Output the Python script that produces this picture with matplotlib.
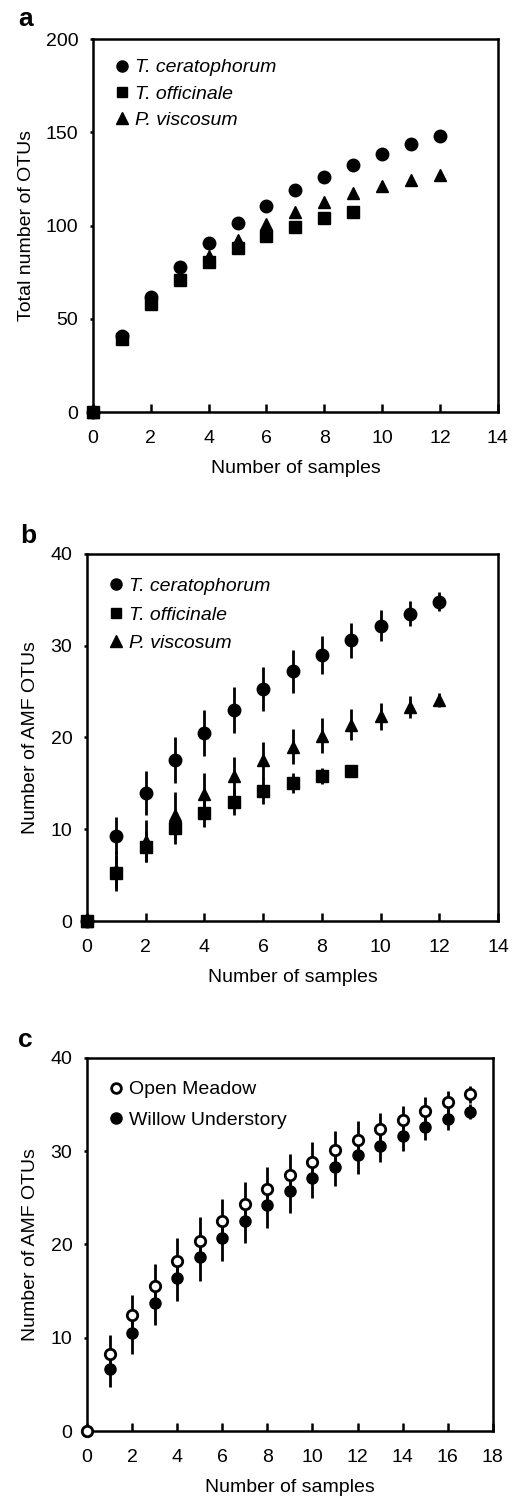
import numpy as np
import matplotlib
matplotlib.use('Agg')
import matplotlib.pyplot as plt
from matplotlib.lines import Line2D

plt.rcParams['font.family'] = ['Liberation Sans', 'DejaVu Sans']
plt.rcParams['font.size'] = 14

# Panel a: total number of OTUs
a_x = list(range(0, 13))
a_cer = [0, 40.7, 61.8, 77.6, 90.4, 101.2, 110.5, 119.0, 125.8, 132.4, 138.3, 143.5, 148.0]
a_off = [0, 39.0, 58.0, 70.8, 80.6, 87.8, 94.5, 99.4, 103.9, 107.4]
a_vis = [0, 39.5, 59.5, 72.0, 83.5, 92.5, 100.8, 107.0, 112.5, 117.2, 121.0, 124.2, 127.0]

# Panel b: AMF OTUs by host plant (mean, sd)
b_cer = [0, 9.3, 14.0, 17.5, 20.5, 23.0, 25.3, 27.2, 29.0, 30.6, 32.2, 33.5, 34.8]
b_cer_e = [0, 2.0, 2.4, 2.5, 2.5, 2.5, 2.4, 2.3, 2.1, 1.9, 1.7, 1.4, 1.0]
b_off = [0, 5.2, 8.1, 10.1, 11.8, 13.0, 14.2, 15.0, 15.8, 16.4]
b_off_e = [0, 1.9, 1.7, 1.7, 1.6, 1.4, 1.4, 1.1, 0.9, 0.3]
b_vis = [0, 5.6, 8.7, 11.5, 13.8, 15.8, 17.5, 19.0, 20.2, 21.4, 22.3, 23.3, 24.1]
b_vis_e = [0, 2.0, 2.3, 2.6, 2.3, 2.1, 2.0, 1.9, 1.9, 1.7, 1.5, 1.2, 0.8]

# Panel c: AMF OTUs by habitat
c_x = list(range(0, 18))
c_open = [0, 8.3, 12.4, 15.5, 18.2, 20.4, 22.5, 24.3, 25.95, 27.45, 28.8, 30.1, 31.2, 32.4, 33.4, 34.35, 35.3, 36.1]
c_open_e = [0, 2.0, 2.2, 2.4, 2.5, 2.5, 2.4, 2.4, 2.4, 2.3, 2.2, 2.1, 2.0, 1.75, 1.5, 1.5, 1.2, 0.9]
c_will = [0, 6.6, 10.5, 13.7, 16.4, 18.7, 20.7, 22.55, 24.2, 25.7, 27.1, 28.35, 29.6, 30.6, 31.6, 32.6, 33.5, 34.25]
c_will_e = [0, 1.9, 2.2, 2.3, 2.5, 2.6, 2.5, 2.4, 2.4, 2.3, 2.15, 2.05, 2.0, 1.8, 1.6, 1.45, 1.2, 0.8]

fig = plt.figure(figsize=(5.15, 15), dpi=100)
ax_a = fig.add_axes([0.1806, 0.7253, 0.786, 0.2487])
ax_b = fig.add_axes([0.169, 0.386, 0.798, 0.2447])
ax_c = fig.add_axes([0.169, 0.046, 0.788, 0.2487])


def style_axes(ax, xmax, ymax, ystep, ylabel):
    ax.set_xlim(0, xmax)
    ax.set_ylim(0, ymax)
    ax.set_xticks(np.arange(0, xmax + 1, 2))
    ax.set_yticks(np.arange(0, ymax + 1, ystep))
    for s in ax.spines.values():
        s.set_linewidth(1.8)
    ax.tick_params(axis='x', direction='in', length=5.5, width=1.8, pad=13, labelsize=14)
    ax.tick_params(axis='y', direction='out', length=2.5, width=1.8, pad=8, labelsize=14)
    ax.set_xlabel('Number of samples', fontsize=14, labelpad=9)
    ax.set_ylabel(ylabel, fontsize=14, labelpad=8)


def add_legend(ax, handles, labels, y, spacing, italic=True):
    prop = {'size': 14}
    if italic:
        prop['style'] = 'italic'
    ax.legend(handles, labels, loc='upper left', frameon=False, prop=prop,
              handlelength=0.7, handletextpad=0.3, labelspacing=spacing,
              borderaxespad=0.0, borderpad=0.0, bbox_to_anchor=(0.055, y))


# --- a ---
ms = 9
ax_a.plot(a_x, a_cer, 'o', color='black', ms=ms, clip_on=False, zorder=3)
ax_a.plot(a_x, a_vis, '^', color='black', ms=ms, clip_on=False, zorder=4)
ax_a.plot(a_x[:len(a_off)], a_off, 's', color='black', ms=ms - 0.5, clip_on=False, zorder=5)
style_axes(ax_a, 14, 200, 50, 'Total number of OTUs')

sp_handles = [Line2D([], [], ls='none', marker='o', color='black', ms=8),
              Line2D([], [], ls='none', marker='s', color='black', ms=7.5),
              Line2D([], [], ls='none', marker='^', color='black', ms=8)]
sp_labels = ['T. ceratophorum', 'T. officinale', 'P. viscosum']
add_legend(ax_a, sp_handles, sp_labels, 0.947, 0.45)

# --- b ---
eb = dict(color='black', ms=ms, elinewidth=2, capsize=0, ls='none')
ax_b.errorbar(a_x, b_cer, yerr=b_cer_e, fmt='o', clip_on=False, zorder=3, **eb)
ax_b.errorbar(a_x, b_vis, yerr=b_vis_e, fmt='^', clip_on=False, zorder=4, **eb)
ax_b.errorbar(a_x[:len(b_off)], b_off, yerr=b_off_e, fmt='s', clip_on=False, zorder=5, **eb)
style_axes(ax_b, 14, 40, 10, 'Number of AMF OTUs')
add_legend(ax_b, sp_handles, sp_labels, 0.936, 0.56)

# --- c ---
ax_c.errorbar(c_x, c_will, yerr=c_will_e, fmt='o', color='black', ms=8,
              elinewidth=2, capsize=0, clip_on=False, zorder=3)
ax_c.errorbar(c_x, c_open, yerr=c_open_e, fmt='o', color='black', mfc='white',
              mec='black', mew=2, ms=7.5, elinewidth=2, capsize=0, clip_on=False, zorder=4)
style_axes(ax_c, 18, 40, 10, 'Number of AMF OTUs')
hab_handles = [Line2D([], [], ls='none', marker='o', mfc='white', mec='black', mew=2, ms=7),
               Line2D([], [], ls='none', marker='o', color='black', ms=8)]
add_legend(ax_c, hab_handles, ['Open Meadow', 'Willow Understory'], 0.939, 0.65, italic=False)

# panel letters
fig.text(18 / 515, 1 - 26 / 1500, 'a', fontsize=19, fontweight='bold', va='baseline')
fig.text(20 / 515, 1 - 543 / 1500, 'b', fontsize=19, fontweight='bold', va='baseline')
fig.text(18 / 515, 1 - 1047 / 1500, 'c', fontsize=19, fontweight='bold', va='baseline')

fig.savefig('out.png', dpi=100)
